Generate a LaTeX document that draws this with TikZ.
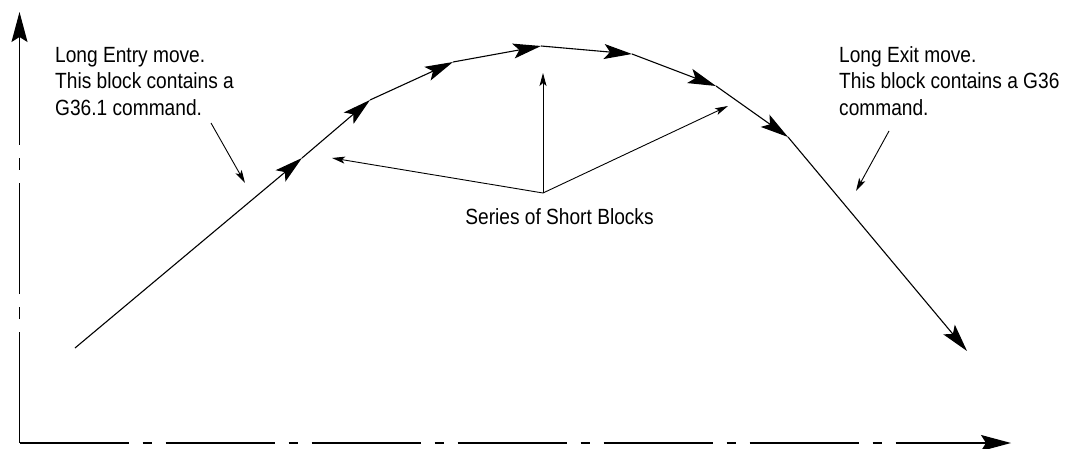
\documentclass[tikz,border=0pt]{standalone}
\usepackage{fontspec}
\setmainfont{Liberation Sans}[FakeStretch=0.87]
\usetikzlibrary{arrows.meta}
\begin{document}
\begin{tikzpicture}[x=1pt,y=-1pt,
  movearrow/.style={line width=1.1pt, -{Stealth[length=28pt,width=15pt,inset=6pt]}},
  axisline/.style={line width=1.2pt, -{Stealth[length=30pt,width=16pt,inset=5pt]}},
  pointer/.style={line width=0.9pt, -{Stealth[length=13pt,width=7pt,inset=3pt]}},
  lbl/.style={font=\fontsize{22}{26.5}\selectfont, inner sep=0pt, align=left}
]
\useasboundingbox (0,0) rectangle (1081,449);
% axes
\coordinate (origin) at (19.5,443);
\coordinate (ytip) at (19.5,12);
\coordinate (xtip) at (1011,443);
\draw[axisline, dash pattern=on 111pt off 13pt on 12pt off 13pt] (origin) -- (ytip);
\draw[axisline, dash pattern=on 109pt off 14pt on 9pt off 14pt] (origin) -- (xtip);
% tool path
\coordinate (p0) at (75,348);
\coordinate (p1) at (302,158);
\coordinate (p2) at (370,100);
\coordinate (p3) at (453,62);
\coordinate (p4) at (541,46);
\coordinate (p5) at (632,54);
\coordinate (p6) at (716,86);
\coordinate (p7) at (788,137);
\coordinate (p8) at (967,351);
\draw[movearrow] (p0) -- (p1);
\draw[movearrow] (p1) -- (p2);
\draw[movearrow] (p2) -- (p3);
\draw[movearrow] (p3) -- (p4);
\draw[movearrow] (p4) -- (p5);
\draw[movearrow] (p5) -- (p6);
\draw[movearrow] (p6) -- (p7);
\draw[movearrow] (p7) -- (p8);
% labels
\node[lbl, anchor=base west] (entry) at (55,115.5) {Long Entry move.\\This block contains a\\G36.1 command.};
\node[lbl, anchor=base west] (exit) at (839,115.5) {Long Exit move.\\This block contains a G36\\command.};
\node[lbl, anchor=base] (series) at (559.5,225) {Series of Short Blocks};
% callouts
\coordinate (entryfrom) at (211,123);
\coordinate (entryto) at (245,183);
\coordinate (exitfrom) at (889,131);
\coordinate (exitto) at (856,191);
\coordinate (hub) at (543,193);
\coordinate (sl) at (332,158);
\coordinate (su) at (543,73);
\coordinate (sr) at (728,106);
\draw[pointer] (entryfrom) -- (entryto);
\draw[pointer] (exitfrom) -- (exitto);
\draw[pointer] (hub) -- (sl);
\draw[pointer] (hub) -- (su);
\draw[pointer] (hub) -- (sr);
\end{tikzpicture}
\end{document}
